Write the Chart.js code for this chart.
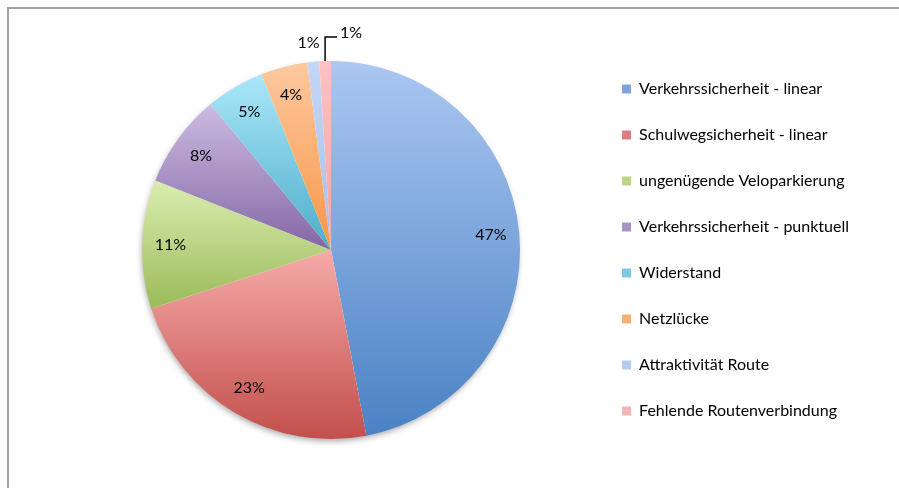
<!DOCTYPE html>
<html>
<head>
    <title>Problemkategorien</title>
    <script src="https://cdn.jsdelivr.net/npm/chart.js@4/dist/chart.umd.min.js"></script>
    <style>
        body { margin: 0; background: #fff; overflow: hidden; }
        .frame {
            position: absolute;
            left: 7px; top: 7px;
            width: 920px; height: 520px;
            border: 2px solid #a3a3a3;
        }
        #pieChart { position: absolute; left: 0; top: 0; }
    </style>
</head>
<body>
    <div class="frame"></div>
    <canvas id="pieChart" width="899" height="488"></canvas>

    <script>
        // Kategorien und Anteile in Prozent
        const categories = [
            'Verkehrssicherheit - linear',
            'Schulwegsicherheit - linear',
            'ungenügende Veloparkierung',
            'Verkehrssicherheit - punktuell',
            'Widerstand',
            'Netzlücke',
            'Attraktivität Route',
            'Fehlende Routenverbindung'
        ];
        const shares = [47, 23, 11, 8, 5, 4, 1, 1];

        // Verlauf je Segment: oben hell, unten dunkel
        const lightColors = ['#abc7f2', '#f6aba9', '#dbedb0', '#cdbbe2', '#aae7fa', '#fdc9a0', '#c3d7f7', '#fbc3c2'];
        const darkColors  = ['#4a82c4', '#c24f4c', '#9bbb59', '#8467a5', '#4eadc8', '#f79646', '#a7bfe8', '#eda6a5'];

        const FONT = 'Lato, "Open Sans", sans-serif';
        const PIE_RADIUS = 189;
        const total = shares.reduce((a, b) => a + b, 0);

        function mix(c1, c2, t) {
            const a = parseInt(c1.slice(1), 16), b = parseInt(c2.slice(1), 16);
            const ch = s => Math.round(((a >> s) & 255) * (1 - t) + ((b >> s) & 255) * t);
            return 'rgb(' + ch(16) + ',' + ch(8) + ',' + ch(0) + ')';
        }

        // vertikaler Verlauf über die Höhe des jeweiligen Segments
        function sliceFill(context) {
            const i = context.dataIndex;
            const chart = context.chart;
            const area = chart.chartArea;
            if (!area) return darkColors[i];
            const cy = (area.top + area.bottom) / 2;
            const r = PIE_RADIUS;
            const before = shares.slice(0, i).reduce((a, b) => a + b, 0);
            const start = -Math.PI / 2 + before / total * 2 * Math.PI;
            const end = start + shares[i] / total * 2 * Math.PI;
            const ys = [cy, cy + r * Math.sin(start), cy + r * Math.sin(end)];
            [-Math.PI / 2, Math.PI / 2, 3 * Math.PI / 2].forEach(a => {
                if (a > start && a < end) ys.push(cy + r * Math.sin(a));
            });
            const g = chart.ctx.createLinearGradient(0, Math.min(...ys), 0, Math.max(...ys));
            g.addColorStop(0, lightColors[i]);
            g.addColorStop(1, darkColors[i]);
            return g;
        }

        // leichter Schatten unter dem Kreis
        const pieShadow = {
            id: 'pieShadow',
            beforeDatasetsDraw(chart) {
                const arc = chart.getDatasetMeta(0).data[0];
                if (!arc) return;
                const ctx = chart.ctx;
                ctx.save();
                ctx.shadowColor = 'rgba(0,0,0,0.35)';
                ctx.shadowBlur = 6;
                ctx.shadowOffsetY = 3;
                ctx.shadowOffsetX = -1;
                ctx.fillStyle = '#fff';
                ctx.beginPath();
                ctx.arc(arc.x, arc.y, arc.outerRadius - 1, 0, 2 * Math.PI);
                ctx.fill();
                ctx.restore();
            }
        };

        // Prozentbeschriftungen, kleine Segmente aussen
        const pctLabels = {
            id: 'pctLabels',
            afterDatasetsDraw(chart) {
                const ctx = chart.ctx;
                const arcs = chart.getDatasetMeta(0).data;
                ctx.save();
                ctx.font = '16px ' + FONT;
                ctx.fillStyle = '#000';
                ctx.textBaseline = 'middle';
                arcs.forEach((arc, i) => {
                    const {x, y, startAngle, endAngle, outerRadius} = arc.getProps(['x', 'y', 'startAngle', 'endAngle', 'outerRadius'], true);
                    const mid = (startAngle + endAngle) / 2;
                    const text = Math.round(shares[i] / total * 100) + '%';
                    if (shares[i] > 2) {
                        const r = outerRadius * 0.85;
                        ctx.textAlign = 'center';
                        ctx.fillText(text, x + r * Math.cos(mid), y + r * Math.sin(mid));
                    } else if (i < arcs.length - 1) {
                        const r = outerRadius * 1.1;
                        ctx.textAlign = 'center';
                        ctx.fillText(text, x + r * Math.cos(mid) - 3, y + r * Math.sin(mid));
                    } else {
                        // Führungslinie nach oben und rechts
                        const px = x + outerRadius * Math.cos(mid);
                        const py = y + outerRadius * Math.sin(mid);
                        const ty = y - outerRadius - 24;
                        ctx.strokeStyle = '#000';
                        ctx.lineWidth = 1.5;
                        ctx.beginPath();
                        ctx.moveTo(px, py);
                        ctx.lineTo(px, ty);
                        ctx.lineTo(px + 12, ty);
                        ctx.stroke();
                        ctx.textAlign = 'left';
                        ctx.fillText(text, px + 15, ty - 4);
                    }
                });
                ctx.restore();
            }
        };

        new Chart(document.getElementById('pieChart'), {
            type: 'pie',
            data: {
                labels: categories,
                datasets: [{
                    data: shares,
                    radius: PIE_RADIUS,
                    backgroundColor: sliceFill,
                    borderWidth: 0
                }]
            },
            options: {
                responsive: false,
                animation: false,
                devicePixelRatio: 1,
                layout: { padding: { left: 70, top: 14, bottom: 2, right: 40 } },
                plugins: {
                    tooltip: { enabled: false },
                    legend: {
                        position: 'right',
                        labels: {
                            boxWidth: 9,
                            boxHeight: 9,
                            padding: 30,
                            color: '#000',
                            font: { family: FONT, size: 16 },
                            generateLabels: () => categories.map((c, i) => ({
                                text: c,
                                fillStyle: mix(lightColors[i], darkColors[i], 0.5),
                                strokeStyle: 'rgba(0,0,0,0)',
                                lineWidth: 0,
                                hidden: false,
                                index: i
                            }))
                        }
                    }
                }
            },
            plugins: [pieShadow, pctLabels]
        });
    </script>
</body>
</html>
